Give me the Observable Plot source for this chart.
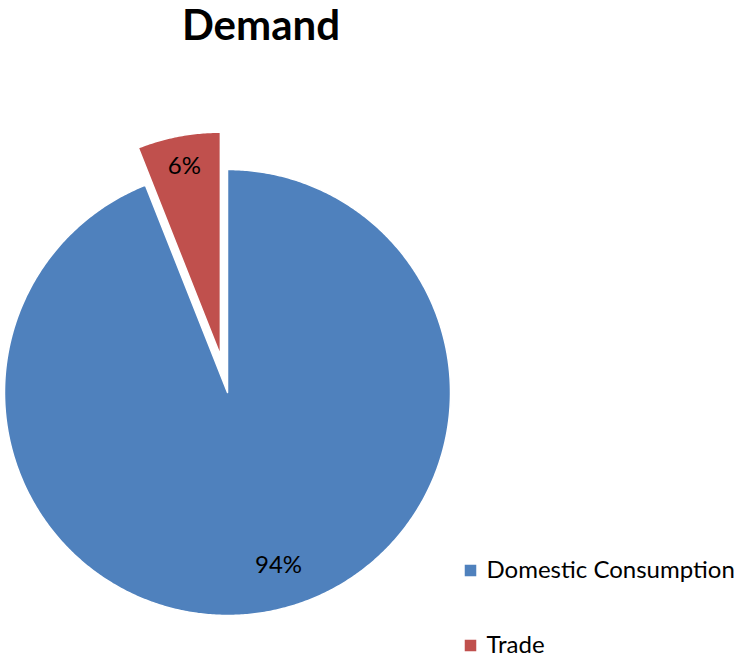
<!DOCTYPE html>
<html>
<head>
<meta charset="utf-8">
<script src="https://cdn.jsdelivr.net/npm/d3@7"></script>
<script src="https://cdn.jsdelivr.net/npm/@observablehq/plot@0.6"></script>
<style>
  html, body { margin: 0; padding: 0; background: #fff; }
  #chart { position: relative; width: 735px; height: 659px; }
  #title { position: absolute; left: 154px; width: 214px; top: -1px; text-align: center;
           font-family: Lato, 'Open Sans', sans-serif; font-weight: bold; font-size: 42px;
           line-height: 50px; color: #000; margin: 0; }
  #chart svg { position: absolute; left: 0; top: 0; }
</style>
</head>
<body>
<div id="chart"><div id="title"></div></div>
<script>
// ---- data ----
const categories = ["Trade", "Domestic Consumption"];
const values = [6, 94];
const labels = ["6%", "94%"];
const colors = ["#C0504D", "#4F81BD"];
const legendOrder = ["Domestic Consumption", "Trade"];
const title = "Demand";

// ---- layout (pixels) ----
const W = 735, H = 659;
const CX = 227, CY = 392, R = 223;
const EXPLODE = { "Trade": 38 / R };
// label placement: radius fraction and angular shift (radians) from slice bisector
const LABEL_R = { "Trade": 0.86, "Domestic Consumption": 0.81 };
const LABEL_SHIFT = { "Trade": 0, "Domestic Consumption": -0.098 };

// pie geometry in unit space (radius 1, y up), angles clockwise from 12 o'clock
const total = d3.sum(values);
let start = -values[0] / total * 2 * Math.PI;
const slices = categories.map((name, i) => {
  const a0 = start, a1 = start + values[i] / total * 2 * Math.PI;
  start = a1;
  const mid = (a0 + a1) / 2;
  const e = EXPLODE[name] || 0;
  return { name, value: values[i], label: labels[i], a0, a1, mid,
           ox: e * Math.sin(mid), oy: e * Math.cos(mid) };
});

const polyPts = [];
for (const s of slices) {
  polyPts.push({ name: s.name, x: s.ox, y: s.oy });
  const steps = Math.max(8, Math.ceil((s.a1 - s.a0) / (Math.PI / 360)));
  for (let k = 0; k <= steps; k++) {
    const a = s.a0 + (s.a1 - s.a0) * k / steps;
    polyPts.push({ name: s.name, x: s.ox + Math.sin(a), y: s.oy + Math.cos(a) });
  }
  polyPts.push({ name: s.name, x: s.ox, y: s.oy });
}

const labelPts = slices.map(s => {
  const lr = LABEL_R[s.name];
  const a = s.mid + LABEL_SHIFT[s.name];
  return { label: s.label, x: s.ox + lr * Math.sin(a), y: s.oy + lr * Math.cos(a) };
});

// legend
const px2x = px => (px - CX) / R;
const py2y = py => (CY - py) / R;
const legendPts = legendOrder.map((name, i) => ({
  name, x: px2x(470), y: py2y(570 + i * 75), tx: px2x(486)
}));

const font = "Lato, 'Open Sans', sans-serif";

const plot = Plot.plot({
  width: W, height: H,
  margin: 0,
  style: { fontFamily: font, background: "transparent", overflow: "visible" },
  x: { domain: [px2x(0), px2x(W)], range: [0, W], axis: null },
  y: { domain: [py2y(H), py2y(0)], range: [H, 0], axis: null },
  color: { domain: categories, range: colors },
  marks: [
    Plot.line(polyPts, { x: "x", y: "y", z: "name", fill: "name", stroke: "white", strokeWidth: 1.5, curve: "linear" }),
    Plot.text(labelPts, { x: "x", y: "y", text: "label", fontSize: 24, fill: "#000" }),
    Plot.dot(legendPts, { x: "x", y: "y", symbol: "square", r: 6.5, fill: "name", stroke: null }),
    Plot.text(legendPts, { x: "tx", y: "y", text: "name", textAnchor: "start", fontSize: 24, fill: "#000" })
  ]
});
const chart = document.getElementById("chart");
chart.insertBefore(plot, chart.firstChild);
document.getElementById("title").textContent = title;
</script>
</body>
</html>
